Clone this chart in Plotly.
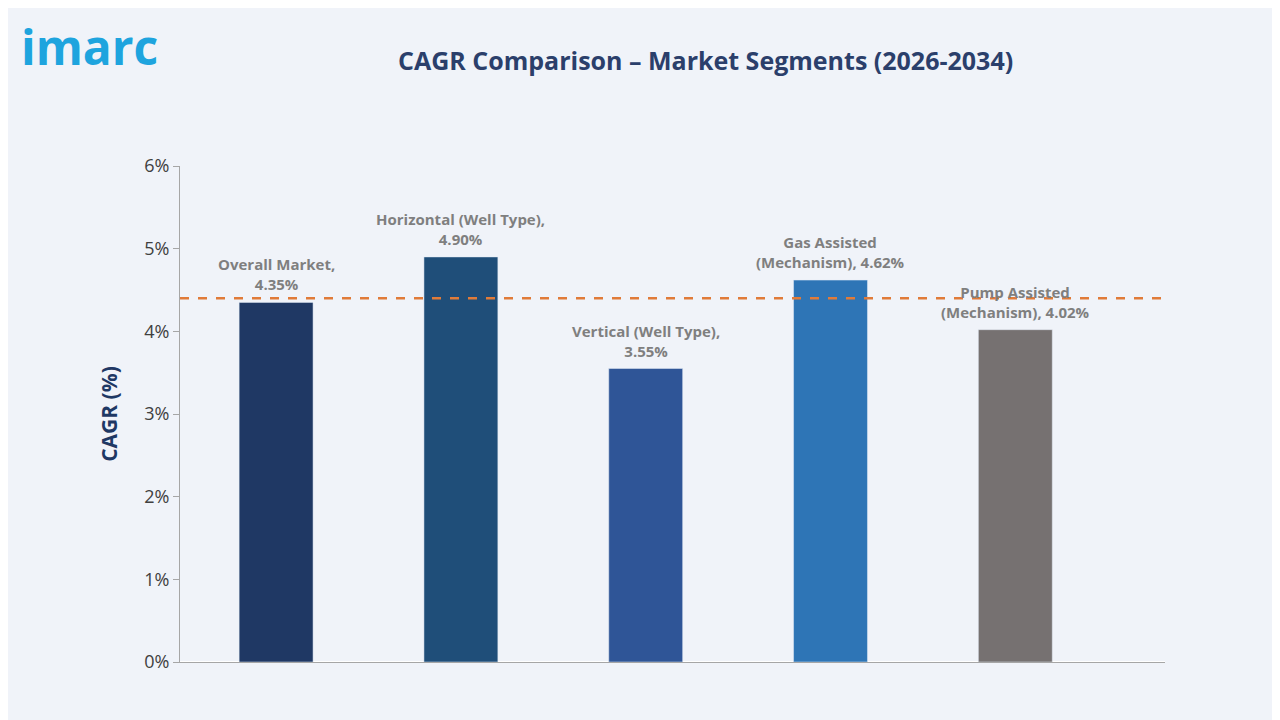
import plotly.graph_objects as go

categories = ["Overall Market", "Horizontal (Well Type)", "Vertical (Well Type)", "Gas Assisted (Mechanism)", "Pump Assisted (Mechanism)"]
values = [4.35, 4.90, 3.55, 4.62, 4.02]
labels = ["Overall Market,<br>4.35%", "Horizontal (Well Type),<br>4.90%", "Vertical (Well Type),<br>3.55%", "Gas Assisted<br>(Mechanism), 4.62%", "Pump Assisted<br>(Mechanism), 4.02%"]
colors = ["#1F3864", "#1F4E79", "#2F5597", "#2E75B6", "#767171"]
avg_line = 4.40

fig = go.Figure()
fig.add_trace(go.Bar(x=categories, y=values, marker_color=colors, width=0.4, hoverinfo="skip"))
for c, v, t in zip(categories, values, labels):
    fig.add_annotation(x=c, y=v, text="<b>" + t + "</b>", showarrow=False, yanchor="bottom", yshift=6,
                       font=dict(family="Open Sans", size=15, color="#7F7F7F"))
fig.add_shape(type="line", xref="paper", x0=0, x1=1, yref="y", y0=avg_line, y1=avg_line,
              line=dict(color="#E07B39", width=2.5, dash="dash"), layer="above")
fig.update_layout(
    width=1280, height=720, paper_bgcolor="#F0F3F9", plot_bgcolor="#F0F3F9",
    margin=dict(l=172, r=123, t=158, b=66), showlegend=False,
    title=dict(text="<b>CAGR Comparison – Market Segments (2026-2034)</b>", x=0.545, y=0.938, xanchor="center",
               font=dict(family="Open Sans", size=25, color="#2B3F6B")),
    xaxis=dict(showticklabels=False, showline=True, linecolor="#A6A6A6", ticks="", range=[-0.52, 4.81]),
    yaxis=dict(range=[0, 6], dtick=1, ticksuffix="%", showgrid=False, showline=True, linecolor="#A6A6A6",
               ticks="outside", tickcolor="#A6A6A6", ticklen=6,
               tickfont=dict(family="Open Sans", size=18, color="#404040"),
               title=dict(text="<b>CAGR (%)</b>", font=dict(family="Open Sans", size=21, color="#1F3864"), standoff=20)),
    font=dict(family="Open Sans"),
)
fig.add_annotation(text="<b>imarc</b>", xref="paper", yref="paper", x=-0.163, y=1.31, xanchor="left",
                   showarrow=False, font=dict(family="Open Sans", size=48, color="#1EA4DE"))
fig.write_html("out.html")
